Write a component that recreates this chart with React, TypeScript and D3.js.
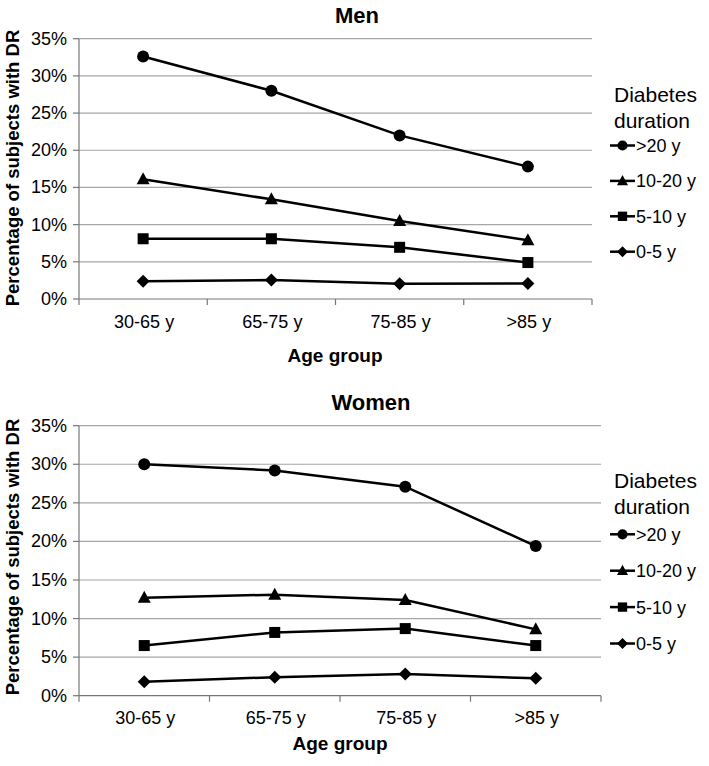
import React from "react";
import * as d3 from "d3";

const ageGroups = ["30-65 y", "65-75 y", "75-85 y", ">85 y"];
const durations = [">20 y", "10-20 y", "5-10 y", "0-5 y"];
const yTicks = [0, 5, 10, 15, 20, 25, 30, 35];

const menOver20 = [32.6, 28.0, 22.0, 17.8];
const men10to20 = [16.1, 13.4, 10.5, 7.9];
const men5to10 = [8.1, 8.1, 6.95, 4.9];
const men0to5 = [2.4, 2.55, 2.05, 2.1];

const womenOver20 = [30.0, 29.2, 27.1, 19.4];
const women10to20 = [12.7, 13.1, 12.4, 8.6];
const women5to10 = [6.5, 8.2, 8.7, 6.5];
const women0to5 = [1.8, 2.4, 2.8, 2.25];

const markers = ["circle", "triangle", "square", "diamond"];

const FONT = "'Liberation Sans', Arial, Helvetica, sans-serif";

type PanelProps = {
  title: string;
  series: number[][];
  x0: number;
  x1: number;
  yTop: number;
  yBot: number;
  titleX: number;
  titleY: number;
  tickLabelY: number;
  axisTitleX: number;
  axisTitleY: number;
  yLabelY: number;
  legendX: number;
  legendHeadY: number;
  legendY0: number;
  legendStep: number;
};

function Marker({ kind, x, y, s = 1 }: { kind: string; x: number; y: number; s?: number }) {
  if (kind === "circle") return <circle cx={x} cy={y} r={6 * s} fill="#000" />;
  if (kind === "square")
    return <rect x={x - 5.5 * s} y={y - 5.5 * s} width={11 * s} height={11 * s} fill="#000" />;
  if (kind === "triangle")
    return (
      <path
        d={`M${x},${y - 7 * s} L${x + 6.5 * s},${y + 5 * s} L${x - 6.5 * s},${y + 5 * s} Z`}
        fill="#000"
      />
    );
  return (
    <path
      d={`M${x},${y - 6.5 * s} L${x + 6.5 * s},${y} L${x},${y + 6.5 * s} L${x - 6.5 * s},${y} Z`}
      fill="#000"
    />
  );
}

function Panel(p: PanelProps) {
  const x = d3.scaleBand<string>().domain(ageGroups).range([p.x0, p.x1]);
  const y = d3.scaleLinear().domain([0, 35]).range([p.yBot, p.yTop]);
  const line = d3
    .line<number>()
    .x((_, i) => (x(ageGroups[i]) as number) + x.bandwidth() / 2)
    .y((v) => y(v));
  const boundaries = [...ageGroups.map((g) => x(g) as number), p.x1];
  return (
    <g fontFamily={FONT}>
      <text x={p.titleX} y={p.titleY} textAnchor="middle" fontWeight="bold" fontSize={22}>
        {p.title}
      </text>
      {yTicks.map((t) => (
        <g key={t}>
          {t > 0 && (
            <line x1={p.x0} x2={p.x1} y1={y(t)} y2={y(t)} stroke="#a6a6a6" strokeWidth={1.2} />
          )}
          <line x1={p.x0 - 6} x2={p.x0} y1={y(t)} y2={y(t)} stroke="#777" strokeWidth={1.2} />
          <text x={p.x0 - 12} y={y(t) + 6} textAnchor="end" fontSize={18}>
            {t + "%"}
          </text>
        </g>
      ))}
      <line x1={p.x0} x2={p.x0} y1={p.yTop} y2={p.yBot} stroke="#777" strokeWidth={1.2} />
      <line x1={p.x0} x2={p.x1} y1={p.yBot} y2={p.yBot} stroke="#777" strokeWidth={1.2} />
      {boundaries.map((b, i) => (
        <line key={i} x1={b} x2={b} y1={p.yBot} y2={p.yBot + 6} stroke="#777" strokeWidth={1.2} />
      ))}
      {ageGroups.map((g) => (
        <text
          key={g}
          x={(x(g) as number) + x.bandwidth() / 2 + 1}
          y={p.tickLabelY}
          textAnchor="middle"
          fontSize={18}
        >
          {g}
        </text>
      ))}
      <text x={p.axisTitleX} y={p.axisTitleY} textAnchor="middle" fontWeight="bold" fontSize={19}>
        Age group
      </text>
      <text
        transform={`translate(19,${p.yLabelY}) rotate(-90)`}
        textAnchor="middle"
        fontWeight="bold"
        fontSize={18.5}
      >
        Percentage of subjects with DR
      </text>
      {p.series.map((s, si) => (
        <g key={si}>
          <path d={line(s) as string} fill="none" stroke="#000" strokeWidth={2.5} />
          {s.map((v, i) => (
            <Marker
              key={i}
              kind={markers[si]}
              x={(x(ageGroups[i]) as number) + x.bandwidth() / 2}
              y={y(v)}
            />
          ))}
        </g>
      ))}
      <text x={p.legendX + 4} y={p.legendHeadY} fontSize={21}>
        Diabetes
      </text>
      <text x={p.legendX + 4} y={p.legendHeadY + 26} fontSize={21}>
        duration
      </text>
      {durations.map((d, i) => {
        const ly = p.legendY0 + i * p.legendStep;
        return (
          <g key={d}>
            <line x1={p.legendX} x2={p.legendX + 25} y1={ly} y2={ly} stroke="#000" strokeWidth={2.5} />
            <Marker kind={markers[i]} x={p.legendX + 12.5} y={ly} s={0.85} />
            <text x={p.legendX + 26} y={ly + 6.5} fontSize={18}>
              {d}
            </text>
          </g>
        );
      })}
    </g>
  );
}

export default function App() {
  return (
    <svg width={709} height={766} style={{ position: "absolute", left: 0, top: 0, background: "#fff" }}>
      <rect width={709} height={766} fill="#fff" />
      <Panel
        title="Men"
        series={[menOver20, men10to20, men5to10, men0to5]}
        x0={79}
        x1={592}
        yTop={38.7}
        yBot={299}
        titleX={357}
        titleY={22.5}
        tickLabelY={327.5}
        axisTitleX={335}
        axisTitleY={361.5}
        yLabelY={168}
        legendX={610}
        legendHeadY={102}
        legendY0={145.5}
        legendStep={35.4}
      />
      <Panel
        title="Women"
        series={[womenOver20, women10to20, women5to10, women0to5]}
        x0={79}
        x1={601}
        yTop={425.7}
        yBot={695.7}
        titleX={371}
        titleY={410}
        tickLabelY={724}
        axisTitleX={340}
        axisTitleY={750}
        yLabelY={557}
        legendX={610}
        legendHeadY={488}
        legendY0={534.3}
        legendStep={36.4}
      />
    </svg>
  );
}
